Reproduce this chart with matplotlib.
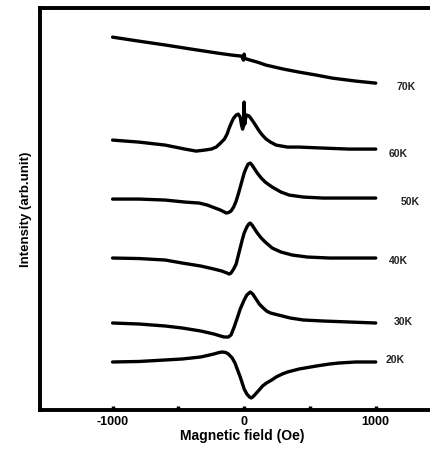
import numpy as np
import matplotlib
matplotlib.use("Agg")
import matplotlib.pyplot as plt

plt.rcParams['font.family'] = ['Liberation Sans', 'DejaVu Sans']
plt.rcParams['axes.unicode_minus'] = False

# field (Oe) and intensity (arb. unit, offset curves)
field_70 = [-1000, -800, -593, -400, -200, -91, -20, -5, 0, 5, 20, 100, 167, 300, 418, 550, 670, 850, 1000]
int_70 = [373, 369, 365, 361, 357, 355, 354, 350, 356, 352, 351, 348, 345, 341, 338, 335, 332, 329, 327]

field_60 = [-1000, -800, -600, -450, -365, -300, -250, -213, -180, -150, -130, -114, -95, -80,
            -61, -45, -30, -20, -12, -5, 0, 5, 12, 20, 38, 55, 76, 100, 120, 145, 167, 200,
            243, 330, 418, 600, 800, 1000]
int_60 = [270, 268, 265, 261, 259, 260, 261, 263, 267, 271, 276, 282, 288, 292,
          295, 296, 293, 285, 281, 284, 308, 286, 293, 295, 294, 291, 287, 282, 278, 274, 271, 268,
          265, 263, 263, 262, 261, 261]

field_50 = [-1000, -800, -600, -450, -342, -280, -220, -180, -150, -137, -120, -100, -80, -61,
            -40, -15, 0, 15, 30, 46, 60, 80, 100, 130, 160, 213, 280, 342, 450, 600, 800, 1000]
int_50 = [211, 211, 210, 208, 207, 205, 202, 200, 198, 197, 197.5, 199, 203, 209,
          218, 230, 237, 242, 246, 247, 245, 241, 237, 232, 228, 223, 218, 215, 213, 212, 212, 212]

field_40 = [-1000, -800, -600, -471, -330, -230, -170, -130, -114, -100, -80, -61, -40, -15, 0,
            20, 35, 46, 60, 80, 100, 130, 160, 213, 280, 365, 480, 650, 1000]
int_40 = [152, 151.5, 150, 147, 144, 141, 139, 137, 136, 137, 141, 146, 157, 170, 177,
          183, 186, 187, 185, 181, 177, 172, 168, 162, 158, 155, 153, 152, 152]

field_30 = [-1000, -800, -600, -471, -330, -230, -180, -152, -120, -100, -76, -50, -30, 0, 20,
            46, 65, 90, 115, 137, 170, 200, 260, 350, 450, 600, 800, 1000]
int_30 = [87, 86, 84, 82, 79, 76, 74, 73, 73, 75, 83, 93, 101, 110, 115,
          118, 116, 111, 106, 103, 99, 97, 95, 92, 90, 89, 88, 87]

field_20 = [-1000, -800, -600, -471, -330, -230, -190, -167, -140, -120, -91, -70, -50, -30, -15,
            0, 20, 40, 53, 65, 80, 100, 114, 140, 170, 210, 243, 290, 330, 418, 550, 650, 722,
            850, 1000]
int_20 = [48, 48.5, 50, 51, 53, 56, 57.5, 58, 57.5, 56, 52, 47, 40, 33, 27,
          21, 16, 13, 12, 13, 15, 18, 20, 24, 27, 30, 33, 36, 38, 41, 44, 46, 47,
          48, 48]

labels = ['70K', '60K', '50K', '40K', '30K', '20K']
label_field = [1230, 1170, 1260, 1170, 1210, 1150]
label_int = [323, 256, 208, 149, 88, 50]

fig = plt.figure(figsize=(4.31, 4.53), dpi=100)
ax = fig.add_axes([0.093, 0.095, 0.94, 0.887])

curves = [(field_70, int_70), (field_60, int_60), (field_50, int_50),
          (field_40, int_40), (field_30, int_30), (field_20, int_20)]
for fx, iy in curves:
    ax.plot(fx, iy, color='black', lw=2.4, solid_joinstyle='round', solid_capstyle='round')

for lab, lx, ly in zip(labels, label_field, label_int):
    ax.text(lx, ly, lab, fontsize=7.5, fontweight='bold', color='#222222',
            ha='center', va='center')

ax.set_xlim(-1551, 1528)
ax.set_ylim(0, 402)
ax.set_xticks([-1000, 0, 1000])
ax.set_xticks([-500, 500], minor=True)
ax.set_yticks([])
ax.tick_params(axis='x', which='both', direction='in', length=3, width=2.5, pad=4,
               labelsize=9)
for t in ax.get_xticklabels():
    t.set_fontweight('bold')
for s in ax.spines.values():
    s.set_linewidth(2.8)
ax.spines['right'].set_visible(False)

ax.set_xlabel('Magnetic field (Oe)', fontsize=10, fontweight='bold', labelpad=1)
ax.set_ylabel('Intensity (arb.unit)', fontsize=9.5, fontweight='bold', labelpad=6)

fig.savefig('out.png', dpi=100)
